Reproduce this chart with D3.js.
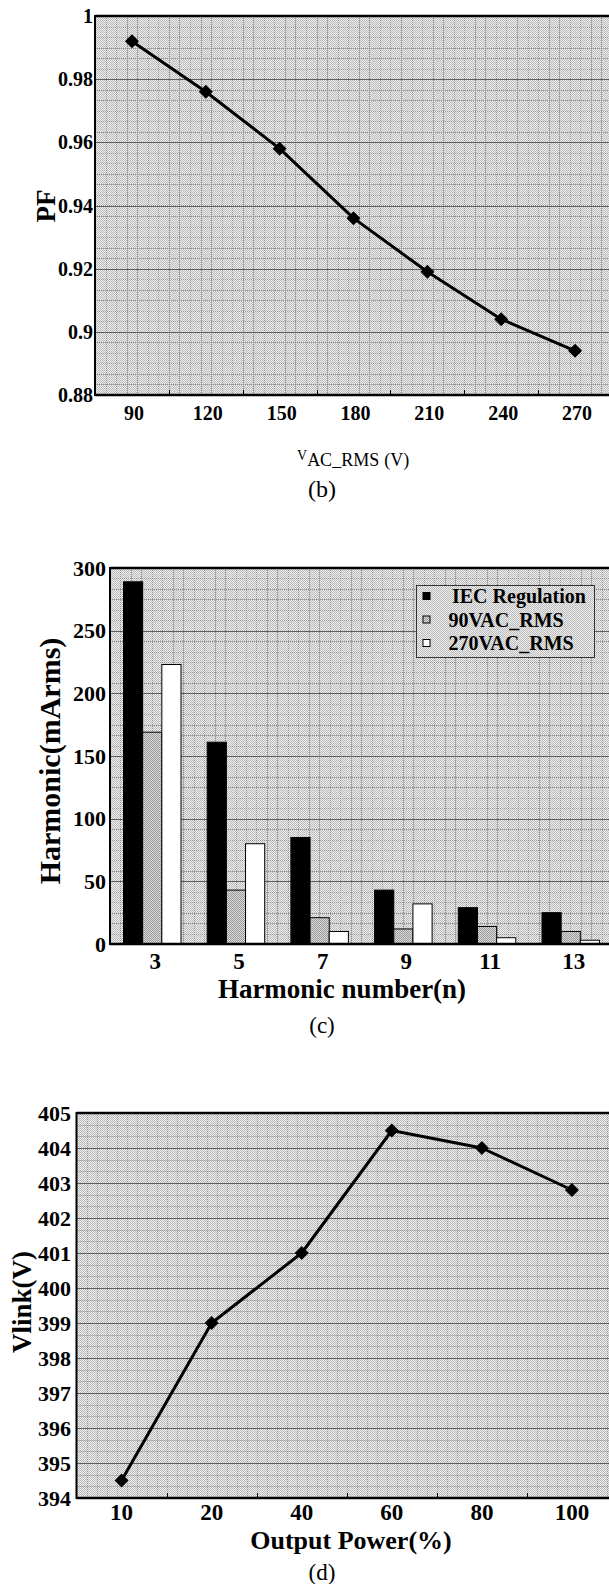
<!DOCTYPE html>
<html>
<head>
<meta charset="utf-8">
<script src="https://cdn.jsdelivr.net/npm/d3@7"></script>
<style>
  html, body { margin: 0; padding: 0; background: #fff; }
  svg { display: block; }
  text { font-family: "Liberation Serif", "Times New Roman", serif; fill: #000; }
</style>
</head>
<body>
<svg id="fig" width="609" height="1584"></svg>
<script>
// ---- (b) power factor versus input voltage ----
const pfVoltage = ["90", "120", "150", "180", "210", "240", "270"];
const pfValues = [0.992, 0.976, 0.958, 0.936, 0.919, 0.904, 0.894];
const pfTicks = [0.88, 0.9, 0.92, 0.94, 0.96, 0.98, 1];

// ---- (c) input current harmonics ----
const harmonicOrders = ["3", "5", "7", "9", "11", "13"];
const harmonicSeries = ["IEC Regulation", "90VAC_RMS", "270VAC_RMS"];
const iecLimit = [289, 161, 85, 43, 29, 25];
const rms90 = [169, 43, 21, 12, 14, 10];
const rms270 = [223, 80, 10, 32, 5, 3];
const harmonicTicks = [0, 50, 100, 150, 200, 250, 300];

// ---- (d) link voltage versus output power ----
const powerLevels = ["10", "20", "40", "60", "80", "100"];
const vlinkValues = [394.5, 399, 401, 404.5, 404, 402.8];
const vlinkTicks = [394, 395, 396, 397, 398, 399, 400, 401, 402, 403, 404, 405];

const svg = d3.select("#fig");
const defs = svg.append("defs");

// fine stippled fill used for the plot areas
function stipple(id, light, dark) {
  const p = defs.append("pattern").attr("id", id)
    .attr("width", 2).attr("height", 2).attr("patternUnits", "userSpaceOnUse");
  p.append("rect").attr("width", 2).attr("height", 2).attr("fill", light);
  p.append("rect").attr("width", 1).attr("height", 1).attr("fill", dark);
  p.append("rect").attr("x", 1).attr("y", 1).attr("width", 1).attr("height", 1).attr("fill", dark);
}
stipple("plotFill", "#ececec", "#bcbcbc");
stipple("greyBar", "#dadada", "#9a9a9a");

const diamond = "M0,-7L7,0L0,7L-7,0Z";

// plot area: stippled background, dotted minor grid, major grid
function panel(g, box, yScale, yTicks, xMinor, yMinor) {
  const { left, top, right, bottom } = box;
  g.append("rect").attr("x", left).attr("y", top)
    .attr("width", right - left).attr("height", bottom - top)
    .attr("fill", "url(#plotFill)");
  const minor = g.append("g").attr("stroke", "#8f8f8f").attr("stroke-width", 1)
    .attr("stroke-dasharray", "1,1");
  for (let x = left + xMinor; x < right; x += xMinor) {
    const xx = Math.round(x) + 0.5;
    minor.append("line").attr("x1", xx).attr("x2", xx).attr("y1", top).attr("y2", bottom);
  }
  for (let y = bottom - yMinor; y > top; y -= yMinor) {
    const yy = Math.round(y) + 0.5;
    minor.append("line").attr("x1", left).attr("x2", right).attr("y1", yy).attr("y2", yy);
  }
  g.append("g").selectAll("line")
    .data(yTicks.slice(1, -1))
    .join("line")
    .attr("x1", left).attr("x2", right)
    .attr("y1", d => Math.round(yScale(d)) + 0.5)
    .attr("y2", d => Math.round(yScale(d)) + 0.5)
    .attr("stroke", "#5e5e5e").attr("stroke-width", 1);
}

function frame(g, box) {
  const { left, top, right, bottom } = box;
  g.append("line").attr("x1", left).attr("x2", right).attr("y1", top).attr("y2", top)
    .attr("stroke", "#000").attr("stroke-width", 2.5);
  g.append("line").attr("x1", left).attr("x2", right).attr("y1", bottom).attr("y2", bottom)
    .attr("stroke", "#000").attr("stroke-width", 2.5);
  g.append("line").attr("x1", left).attr("x2", left).attr("y1", top - 1).attr("y2", bottom + 1)
    .attr("stroke", "#000").attr("stroke-width", 2);
}

function yLabels(g, yScale, ticks, xRight, size) {
  g.append("g").selectAll("text")
    .data(ticks)
    .join("text")
    .attr("x", xRight)
    .attr("y", d => yScale(d))
    .attr("dy", "0.35em")
    .attr("text-anchor", "end")
    .attr("font-weight", "bold")
    .attr("font-size", size)
    .text(d => String(d));
}

function xLabels(g, xScale, cats, baseline, size, shift) {
  g.append("g").selectAll("text")
    .data(cats)
    .join("text")
    .attr("x", d => xScale(d) + xScale.bandwidth() / 2 + (shift || 0))
    .attr("y", baseline)
    .attr("text-anchor", "middle")
    .attr("font-weight", "bold")
    .attr("font-size", size)
    .text(d => d);
}

function xTicksInside(g, xScale, cats, bottom) {
  g.append("g").selectAll("line")
    .data(cats.slice(1))
    .join("line")
    .attr("x1", d => Math.round(xScale(d)) + 0.5)
    .attr("x2", d => Math.round(xScale(d)) + 0.5)
    .attr("y1", bottom - 5).attr("y2", bottom)
    .attr("stroke", "#000").attr("stroke-width", 1);
}

function rotatedTitle(g, text, xBase, yCenter, size) {
  g.append("text")
    .attr("transform", `translate(${xBase},${yCenter}) rotate(-90)`)
    .attr("text-anchor", "middle")
    .attr("font-weight", "bold")
    .attr("font-size", size)
    .text(text);
}

function caption(g, text, x, y, size) {
  g.append("text").attr("x", x).attr("y", y)
    .attr("text-anchor", "middle").attr("font-size", size).text(text);
}

// =================== (b) ===================
{
  const g = svg.append("g");
  const box = { left: 95, top: 16, right: 612, bottom: 395 };
  const x = d3.scaleBand().domain(pfVoltage).range([box.left, box.right]);
  const y = d3.scaleLinear().domain([0.88, 1]).range([box.bottom, box.top]);
  panel(g, box, y, pfTicks, x.step() / 7, (y(0.88) - y(0.9)) / 6);
  xTicksInside(g, x, pfVoltage, box.bottom);
  frame(g, box);

  const pts = pfVoltage.map((v, i) => [x(v) + x.bandwidth() / 2, y(pfValues[i])]);
  g.append("path").attr("d", d3.line()(pts))
    .attr("fill", "none").attr("stroke", "#000").attr("stroke-width", 3)
    .attr("stroke-linejoin", "round");
  g.append("g").selectAll("path").data(pts).join("path")
    .attr("transform", d => `translate(${d[0]},${d[1]})`)
    .attr("d", diamond).attr("fill", "#000");

  yLabels(g, y, pfTicks, 93, 20);
  xLabels(g, x, pfVoltage, 420, 20, 2);
  rotatedTitle(g, "PF", 55, 206, 27);

  const t = g.append("text").attr("x", 297).attr("y", 466).attr("font-size", 18);
  t.append("tspan").attr("font-size", 14).attr("dy", -6).text("V");
  t.append("tspan").attr("dy", 6).text("AC_RMS");
  t.append("tspan").attr("dx", 5).text("(V)");

  caption(g, "(b)", 322, 497, 24);
}

// =================== (c) ===================
{
  const g = svg.append("g");
  const box = { left: 110, top: 568, right: 640, bottom: 944 };
  const x = d3.scaleBand().domain(harmonicOrders).range([123.5, 599.5])
    .paddingInner(0.313).paddingOuter(0);
  const xs = d3.scaleBand().domain(harmonicSeries).range([0, x.bandwidth()]);
  const y = d3.scaleLinear().domain([0, 300]).range([box.bottom, box.top]);
  panel(g, box, y, harmonicTicks, x.step() / 8, (y(0) - y(50)) / 6);

  const seriesValues = [iecLimit, rms90, rms270];
  const fills = ["#000", "url(#greyBar)", "#fff"];
  const bars = [];
  harmonicOrders.forEach((h, i) => {
    harmonicSeries.forEach((s, j) => {
      bars.push({ h, s, j, v: seriesValues[j][i] });
    });
  });
  g.append("g").selectAll("rect").data(bars).join("rect")
    .attr("x", d => x(d.h) + xs(d.s))
    .attr("y", d => y(d.v))
    .attr("width", xs.bandwidth())
    .attr("height", d => y(0) - y(d.v))
    .attr("fill", d => fills[d.j])
    .attr("stroke", "#000").attr("stroke-width", 1);

  frame(g, box);
  yLabels(g, y, harmonicTicks, 106, 22);
  xLabels(g, x, harmonicOrders, 969, 23, 3);
  rotatedTitle(g, "Harmonic(mArms)", 60, 761, 30);

  g.append("text").attr("x", 342).attr("y", 998)
    .attr("text-anchor", "middle").attr("font-weight", "bold").attr("font-size", 27)
    .text("Harmonic number(n)");
  caption(g, "(c)", 322, 1033, 23);

  // legend
  const lg = g.append("g");
  lg.append("rect").attr("x", 416.5).attr("y", 585.5).attr("width", 178).attr("height", 72)
    .attr("fill", "url(#plotFill)").attr("stroke", "#333").attr("stroke-width", 1);
  const rows = [596, 619.5, 643];
  harmonicSeries.forEach((s, j) => {
    lg.append("rect").attr("x", 423).attr("y", rows[j] - 3.5).attr("width", 7).attr("height", 7)
      .attr("fill", fills[j]).attr("stroke", "#000").attr("stroke-width", 1);
    lg.append("text").attr("x", j === 0 ? 452 : 448.5).attr("y", rows[j]).attr("dy", "0.35em")
      .attr("font-weight", "bold").attr("font-size", 20).text(s);
  });
}

// =================== (d) ===================
{
  const g = svg.append("g");
  const box = { left: 76.5, top: 1113, right: 617, bottom: 1498 };
  const x = d3.scaleBand().domain(powerLevels).range([box.left, box.right]);
  const y = d3.scaleLinear().domain([394, 405]).range([box.bottom, box.top]);
  panel(g, box, y, vlinkTicks, x.step() / 9, (y(394) - y(395)) / 3);
  xTicksInside(g, x, powerLevels, box.bottom);
  frame(g, box);

  const pts = powerLevels.map((p, i) => [x(p) + x.bandwidth() / 2, y(vlinkValues[i])]);
  g.append("path").attr("d", d3.line()(pts))
    .attr("fill", "none").attr("stroke", "#000").attr("stroke-width", 3)
    .attr("stroke-linejoin", "round");
  g.append("g").selectAll("path").data(pts).join("path")
    .attr("transform", d => `translate(${d[0]},${d[1]})`)
    .attr("d", diamond).attr("fill", "#000");

  yLabels(g, y, vlinkTicks, 71, 22);
  xLabels(g, x, powerLevels, 1520, 23, 0);
  rotatedTitle(g, "Vlink(V)", 31, 1302, 27);

  g.append("text").attr("x", 351).attr("y", 1549)
    .attr("text-anchor", "middle").attr("font-weight", "bold").attr("font-size", 26)
    .text("Output Power(%)");
  caption(g, "(d)", 322, 1580, 23);
}
</script>
</body>
</html>
